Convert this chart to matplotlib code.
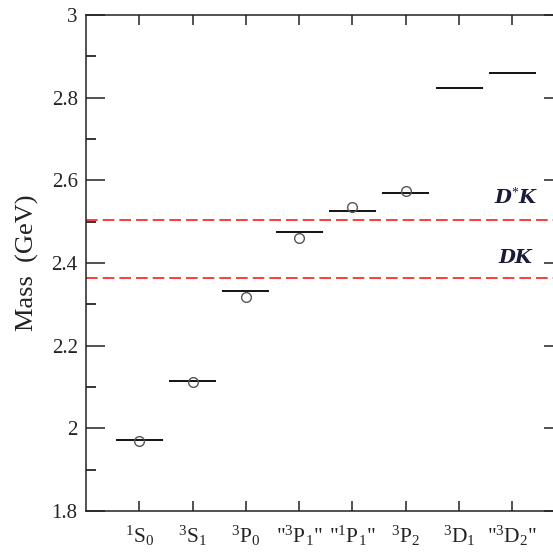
import matplotlib
matplotlib.use("Agg")
import matplotlib.pyplot as plt
from matplotlib.ticker import MultipleLocator

states = [r'$^{1}$S$_{0}$', r'$^{3}$S$_{1}$', r'$^{3}$P$_{0}$', r'"$^{3}$P$_{1}$"',
          r'"$^{1}$P$_{1}$"', r'$^{3}$P$_{2}$', r'$^{3}$D$_{1}$', r'"$^{3}$D$_{2}$"']
model_mass = [1.972, 2.114, 2.332, 2.474, 2.526, 2.570, 2.823, 2.859]
exp_mass = [1.969, 2.112, 2.318, 2.461, 2.536, 2.573]
thresholds = [2.364, 2.505]
threshold_labels = ['DK', r'D$^{*}$K']
label_pos = [(8.06, 2.412), (8.08, 2.558)]
yticks = [1.8, 2.0, 2.2, 2.4, 2.6, 2.8, 3.0]
yticklabels = ['1.8', '2', '2.2', '2.4', '2.6', '2.8', '3']

plt.rcParams['font.family'] = ['Liberation Serif', 'DejaVu Serif']
plt.rcParams['mathtext.fontset'] = 'custom'
plt.rcParams['mathtext.rm'] = 'Liberation Serif'
plt.rcParams['mathtext.it'] = 'Liberation Serif:italic'
plt.rcParams['mathtext.bf'] = 'Liberation Serif:bold'

fig = plt.figure(figsize=(5.53, 5.58), dpi=100)
ax = fig.add_axes([86/553, 47/558, 477/553, 496/558])

xs = list(range(1, len(states) + 1))
hw = 0.44
ax.hlines(model_mass, [x - hw for x in xs], [x + hw for x in xs], colors='black', lw=1.3, zorder=3)
ax.plot(xs[:len(exp_mass)], exp_mass, 'o', mfc='none', mec='#555555', mew=1.0, ms=7, zorder=4)

for t in thresholds:
    ax.axhline(t, color='#ff1a1a', lw=1.2, ls=(0, (7, 3)), zorder=2)

for lab, (lx, ly) in zip(threshold_labels, label_pos):
    ax.text(lx, ly, lab, fontsize=14, fontweight='bold', fontstyle='italic',
            family=['DejaVu Serif'], color='#1a1a3a', ha='center', va='center')

ax.set_xlim(0, 8.95)
ax.set_ylim(1.8, 3.0)
ax.set_xticks(xs)
ax.set_xticklabels(states, fontsize=15.5)
ax.yaxis.set_minor_locator(MultipleLocator(0.1))
ax.set_yticks(yticks)
ax.set_yticklabels(yticklabels, fontsize=15)
ax.tick_params(axis='y', which='major', direction='in', length=14, width=1.1, right=True, pad=6, colors='#222222')
ax.tick_params(axis='y', which='minor', direction='in', length=7, width=1.1, left=True, right=False)
ax.tick_params(axis='x', which='major', direction='in', length=7.5, width=1.1, top=True, pad=9, colors='#222222')
for s in ax.spines.values():
    s.set_linewidth(1.1)
    s.set_color('#222222')

ax.set_ylabel('Mass  (GeV)', fontsize=19, color='#222222', labelpad=9)

fig.savefig('out.png', dpi=100)
